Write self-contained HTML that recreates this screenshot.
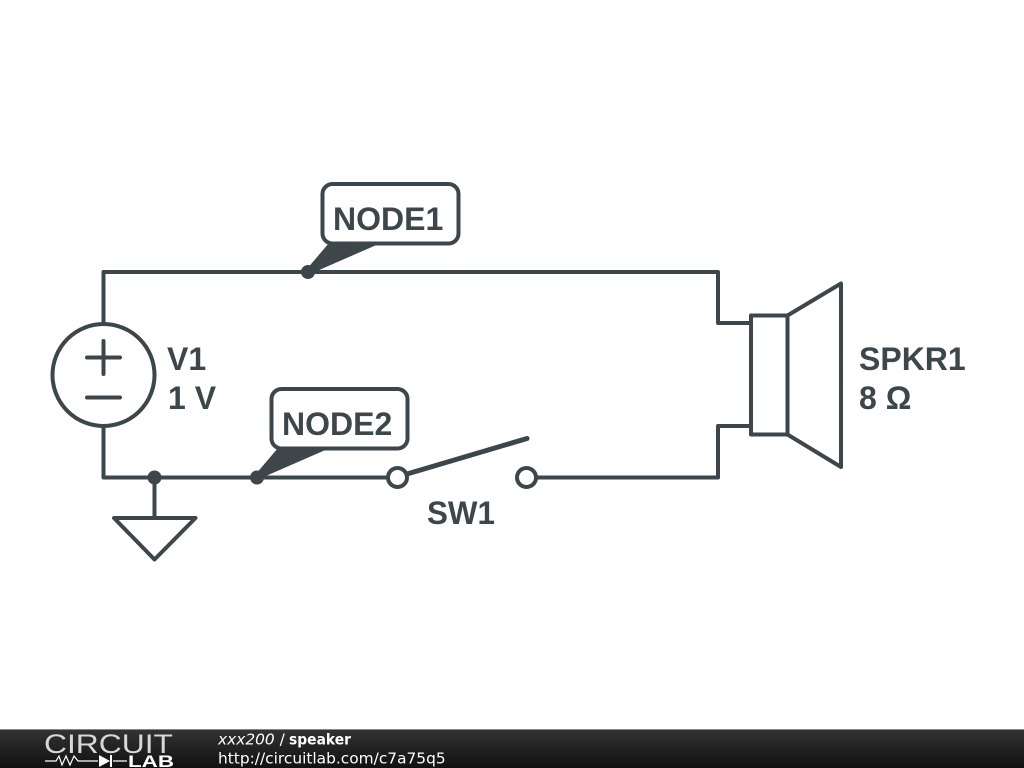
<!DOCTYPE html>
<html><head><meta charset="utf-8"><style>
html,body{margin:0;padding:0;background:#fff;width:1024px;height:768px;overflow:hidden}
svg{display:block}
</style></head><body>
<svg width="1024" height="768" viewBox="0 0 1024 768" xmlns="http://www.w3.org/2000/svg">
<defs><linearGradient id="g" x1="0" y1="0" x2="0" y2="1"><stop offset="0" stop-color="#333"/><stop offset="1" stop-color="#111"/></linearGradient></defs>
<rect width="1024" height="768" fill="#fff"/>
<g fill="none" stroke="#3d464b" stroke-width="4" stroke-linecap="round" stroke-linejoin="round">
<path d="M103.500 323V272H718V323H751"/>
<path d="M103.500 426V477.500H388"/>
<path d="M536 477.500H718V426H751"/>
<path d="M154.500 477V518"/>
<circle cx="103.500" cy="375" r="51"/>
<path d="M87 357.500H120M103.500 341V374M87 397.500H120"/>
<path d="M114 518H195.500L154.500 559.500Z"/>
<rect x="751" y="315.500" width="36.500" height="119"/>
<path d="M787.500 315.500L841 283.500V467L787.500 434.500"/>
<circle cx="397.500" cy="477.500" r="9.500"/>
<circle cx="526.500" cy="477.500" r="9.500"/>
</g>
<path d="M407 474L527 438.500" stroke="#3d464b" stroke-width="5" stroke-linecap="round" fill="none"/>
<g fill="#3d464b">
<circle cx="154.500" cy="477.500" r="7"/>
<circle cx="308" cy="272" r="7"/>
<circle cx="257" cy="477.500" r="7"/>
<path d="M306 270L329 243H381L310 274Z"/>
<path d="M255 475L278 448H330L259 479Z"/>
</g>
<g fill="#fff" stroke="#3d464b" stroke-width="4">
<rect x="322.500" y="184" width="136" height="59.500" rx="10"/>
<rect x="271.500" y="389" width="136" height="59.500" rx="10"/>
</g>
<g fill="#3d464b" font-family="'Liberation Sans',sans-serif" font-weight="700" font-size="32">
<text x="333" y="230">NODE1</text>
<text x="282" y="435">NODE2</text>
<text x="167" y="370">V1</text>
<text x="168" y="409">1 V</text>
<text x="427" y="524" textLength="68" lengthAdjust="spacingAndGlyphs">SW1</text>
<text x="859" y="370">SPKR1</text>
<text x="859" y="409">8 Ω</text>
</g>
<rect y="729" width="1024" height="39" fill="url(#g)"/>
<rect y="729" width="1024" height="1" fill="#888"/>
<text x="44" y="753" font-family="'Liberation Sans',sans-serif" font-size="27" fill="#d8d8d8" textLength="129" lengthAdjust="spacingAndGlyphs">CIRCUIT</text>
<path d="M45 761H56L59 756L62 765L66 756L70 765L74 756L78 761H98M113 761H127" stroke="#fff" stroke-width="1.200" fill="none"/>
<path d="M99 755L110 761L99 767Z M110 755H112V767H110Z" fill="#fff"/>
<text x="128" y="767" font-family="'Liberation Sans',sans-serif" font-weight="700" font-size="17" fill="#fff" textLength="46" lengthAdjust="spacingAndGlyphs">LAB</text>
<g font-family="'DejaVu Sans',sans-serif" font-size="15.400" fill="#fff">
<text x="218" y="744.500"><tspan font-style="italic">xxx200</tspan> / </text>
<text x="289" y="744.500" font-weight="700" textLength="62" lengthAdjust="spacingAndGlyphs">speaker</text>
<text x="218" y="763.500">http://circuitlab.com/c7a75q5</text>
</g>
</svg>
</body></html>
